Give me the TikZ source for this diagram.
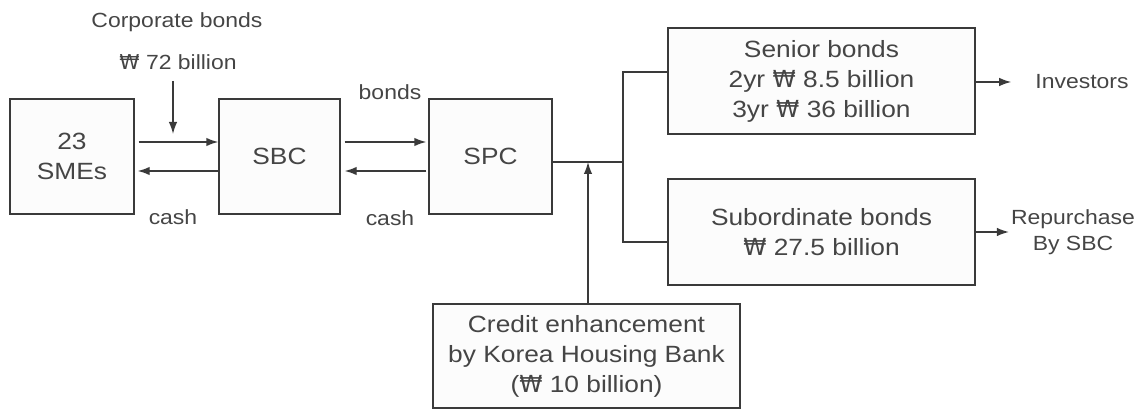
\documentclass[tikz,border=0pt]{standalone}
\usepackage{fontspec}
\setmainfont{Liberation Sans}[FakeStretch=1.12]
\newfontfamily\wonf{DejaVu Sans}
\usetikzlibrary{arrows.meta,calc}
\newcommand{\won}{{\wonf ₩}}
\newcommand{\boxfont}{\fontsize{23.5}{30}\selectfont}
\newcommand{\lblfont}{\fontsize{20.5}{26}\selectfont}
\definecolor{linec}{HTML}{3A3A3A}
\definecolor{textc}{HTML}{454545}
\definecolor{boxfill}{HTML}{FCFCFC}
\begin{document}
\begin{tikzpicture}[x=1pt,y=1pt,
  box/.style={draw=linec, line width=1.4pt, fill=boxfill, inner sep=0pt,
    align=center, font=\boxfont, text=textc},
  arr/.style={draw=linec, line width=1.4pt, -{Latex[length=12pt,width=8.5pt]}},
  conn/.style={draw=linec, line width=1.4pt},
  lbl/.style={font=\lblfont, text=textc, inner sep=0pt, align=center}]
\useasboundingbox (0,0) rectangle (1143,409);
% boxes
\node[box, minimum width=124pt, minimum height=115pt] (smes) at (72,252.5) {23\\SMEs};
\node[box, minimum width=121pt, minimum height=115pt] (sbc) at (279.5,252.5) {SBC};
\node[box, minimum width=123pt, minimum height=115pt] (spc) at (490.5,252.5) {SPC};
\node[box, minimum width=307pt, minimum height=106pt] (senior) at (821.5,328)
  {Senior bonds\\2yr \won{} 8.5 billion\\3yr \won{} 36 billion};
\node[box, minimum width=307pt, minimum height=106pt] (sub) at (821.5,177)
  {Subordinate bonds\\\won{} 27.5 billion};
\node[box, minimum width=307pt, minimum height=104pt] (credit) at (586.5,53)
  {Credit enhancement\\by Korea Housing Bank\\(\won{} 10 billion)};
% labels
\node[lbl] (corp) at (177,387) {Corporate bonds};
\node[lbl] (won72) at (178,347) {\won{} 72 billion};
\node[lbl] (bondsl) at (390,317) {bonds};
\node[lbl] (cash1) at (173,192) {cash};
\node[lbl] (cash2) at (390,191) {cash};
\node[lbl] (investors) at (1082,327) {Investors};
\node[lbl] (rep) at (1073,177) {Repurchase\\By SBC};
% connectors
\coordinate (cbtop) at (173,328);
\coordinate (cbend) at (173,275);
\draw[arr] (cbtop) -- (cbend);
\draw[arr] ([shift={(4,14.5)}]smes.east) -- ([yshift=14.5]sbc.west);
\draw[arr] ([yshift=-14.5]sbc.west) -- ([shift={(3,-14.5)}]smes.east);
\draw[arr] ([shift={(4,14.5)}]sbc.east) -- ([shift={(-2,14.5)}]spc.west);
\draw[arr] ([shift={(-2,-14.5)}]spc.west) -- ([shift={(4,-14.5)}]sbc.east);
\coordinate (j) at (623,247);
\draw[conn] ([yshift=-5.5]spc.east) -- (j);
\draw[conn] ([yshift=9]senior.west) -| (j) |- ([yshift=-10]sub.west);
\coordinate (cr) at ([xshift=1.5]credit.north);
\draw[arr] (cr) -- (cr |- j);
\draw[arr] ([yshift=-1]senior.east) -- ([xshift=-24]investors.west |- 0,327);
\draw[arr] (sub.east) -- ([xshift=-2]rep.west);
\end{tikzpicture}
\end{document}
